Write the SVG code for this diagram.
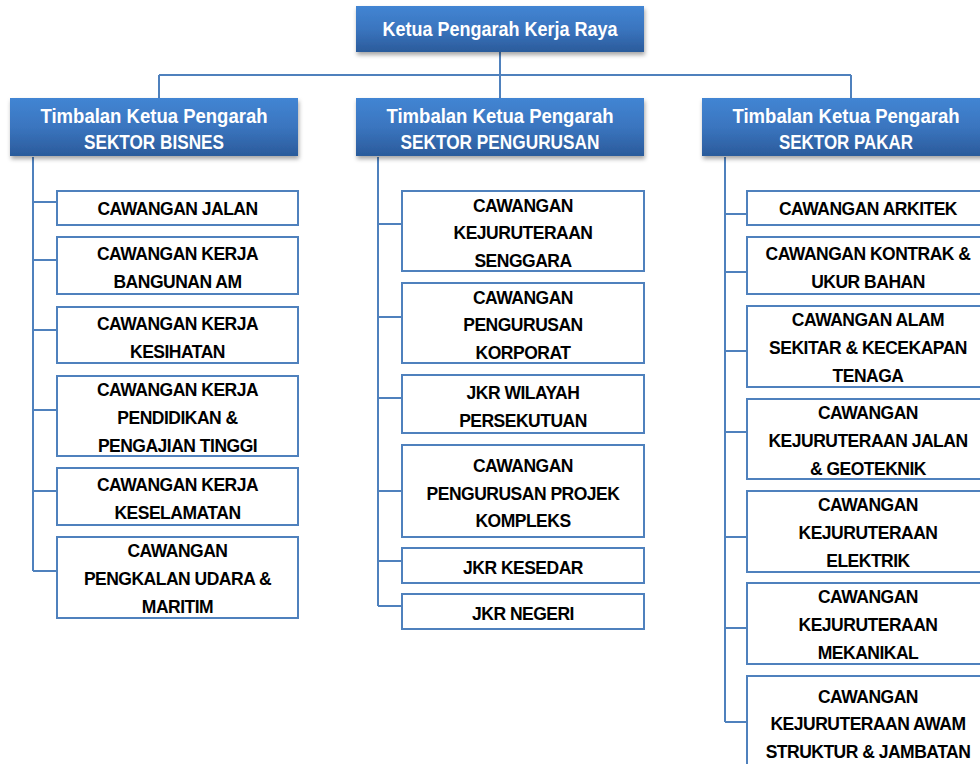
<svg xmlns="http://www.w3.org/2000/svg" width="980" height="764" viewBox="0 0 980 764">
<defs>
<linearGradient id="hg" x1="0" y1="0" x2="0" y2="1">
<stop offset="0" stop-color="#4285d3"/>
<stop offset="0.5" stop-color="#3a75bf"/>
<stop offset="1" stop-color="#2b5b9b"/>
</linearGradient>
<filter id="sh" x="-5%" y="-20%" width="115%" height="160%">
<feDropShadow dx="1" dy="3" stdDeviation="2" flood-color="#000" flood-opacity="0.35"/>
</filter>
<style>
.hbox{fill:url(#hg);filter:url(#sh);}
.ht{fill:#fff;font-family:"Liberation Sans",Arial,sans-serif;font-weight:bold;font-size:19.5px;text-anchor:middle;}
.box{fill:#fff;stroke:#4f81bd;stroke-width:2;}
.t{fill:#000;font-family:"Liberation Sans",Arial,sans-serif;font-weight:bold;font-size:17.5px;letter-spacing:-0.5px;text-anchor:middle;}
.ln{fill:none;stroke:#4f81bd;stroke-width:2;}
</style>
</defs>
<rect width="980" height="764" fill="#fff"/>

<g id="connectors" class="ln">
<path d="M500 52V98M159 75H851M159 75V98M851 75V98"/>
<path d="M33 157V571M33 202H57M33 260H57M33 330H57M33 410H57M33 491H57M33 571H57"/>
<path d="M378 157V606M378 224H402M378 317H402M378 398H402M378 491H402M378 561H402M378 606H402"/>
<path d="M725 157V722M725 214H747M725 272H747M725 351H747M725 432H747M725 537H747M725 628H747M725 722H747"/>
</g>

<g id="ketua">
<rect class="hbox" x="356" y="6" width="288" height="46"/>
<text class="ht" x="500" y="36" textLength="235" lengthAdjust="spacingAndGlyphs">Ketua Pengarah Kerja Raya</text>
</g>

<g id="bisnes">
<rect class="hbox" x="10" y="98" width="288" height="58"/>
<text class="ht" x="154" y="123" textLength="227" lengthAdjust="spacingAndGlyphs">Timbalan Ketua Pengarah</text>
<text class="ht" x="154" y="149" textLength="140" lengthAdjust="spacingAndGlyphs">SEKTOR BISNES</text>
</g>
<g id="pengurusan">
<rect class="hbox" x="356" y="98" width="288" height="58"/>
<text class="ht" x="500" y="123" textLength="227" lengthAdjust="spacingAndGlyphs">Timbalan Ketua Pengarah</text>
<text class="ht" x="500" y="149" textLength="199" lengthAdjust="spacingAndGlyphs">SEKTOR PENGURUSAN</text>
</g>
<g id="pakar">
<rect class="hbox" x="702" y="98" width="288" height="58"/>
<text class="ht" x="846" y="123" textLength="227" lengthAdjust="spacingAndGlyphs">Timbalan Ketua Pengarah</text>
<text class="ht" x="846" y="149" textLength="134" lengthAdjust="spacingAndGlyphs">SEKTOR PAKAR</text>
</g>

<!-- Left column -->
<g id="jalan"><rect class="box" x="57" y="191" width="241" height="34"/>
<text class="t" x="177.5" y="215">CAWANGAN JALAN</text></g>
<g id="bangunan"><rect class="box" x="57" y="237" width="241" height="57"/>
<text class="t" x="177.5" y="260">CAWANGAN KERJA</text><text class="t" x="177.5" y="288">BANGUNAN AM</text></g>
<g id="kesihatan"><rect class="box" x="57" y="307" width="241" height="56"/>
<text class="t" x="177.5" y="330">CAWANGAN KERJA</text><text class="t" x="177.5" y="358">KESIHATAN</text></g>
<g id="pendidikan"><rect class="box" x="57" y="376" width="241" height="80"/>
<text class="t" x="177.5" y="396">CAWANGAN KERJA</text><text class="t" x="177.5" y="424">PENDIDIKAN &amp;</text><text class="t" x="177.5" y="452">PENGAJIAN TINGGI</text></g>
<g id="keselamatan"><rect class="box" x="57" y="468" width="241" height="57"/>
<text class="t" x="177.5" y="491">CAWANGAN KERJA</text><text class="t" x="177.5" y="519">KESELAMATAN</text></g>
<g id="pengkalan"><rect class="box" x="57" y="537" width="241" height="81"/>
<text class="t" x="177.5" y="557">CAWANGAN</text><text class="t" x="177.5" y="585">PENGKALAN UDARA &amp;</text><text class="t" x="177.5" y="613">MARITIM</text></g>

<!-- Middle column -->
<g id="senggara"><rect class="box" x="402" y="191" width="242" height="80"/>
<text class="t" x="523" y="212">CAWANGAN</text><text class="t" x="523" y="239">KEJURUTERAAN</text><text class="t" x="523" y="267">SENGGARA</text></g>
<g id="korporat"><rect class="box" x="402" y="283" width="242" height="80"/>
<text class="t" x="523" y="304">CAWANGAN</text><text class="t" x="523" y="331">PENGURUSAN</text><text class="t" x="523" y="359">KORPORAT</text></g>
<g id="wilayah"><rect class="box" x="402" y="375" width="242" height="58"/>
<text class="t" x="523" y="399">JKR WILAYAH</text><text class="t" x="523" y="427">PERSEKUTUAN</text></g>
<g id="projek"><rect class="box" x="402" y="445" width="242" height="92"/>
<text class="t" x="523" y="472">CAWANGAN</text><text class="t" x="523" y="500">PENGURUSAN PROJEK</text><text class="t" x="523" y="527">KOMPLEKS</text></g>
<g id="kesedar"><rect class="box" x="402" y="548" width="242" height="35"/>
<text class="t" x="523" y="574">JKR KESEDAR</text></g>
<g id="negeri"><rect class="box" x="402" y="594" width="242" height="35"/>
<text class="t" x="523" y="620">JKR NEGERI</text></g>

<!-- Right column -->
<g id="arkitek"><rect class="box" x="747" y="191" width="242" height="34"/>
<text class="t" x="868" y="215">CAWANGAN ARKITEK</text></g>
<g id="kontrak"><rect class="box" x="747" y="237" width="242" height="57"/>
<text class="t" x="868" y="260">CAWANGAN KONTRAK &amp;</text><text class="t" x="868" y="288">UKUR BAHAN</text></g>
<g id="alam"><rect class="box" x="747" y="306" width="242" height="81"/>
<text class="t" x="868" y="326">CAWANGAN ALAM</text><text class="t" x="868" y="354">SEKITAR &amp; KECEKAPAN</text><text class="t" x="868" y="382">TENAGA</text></g>
<g id="geoteknik"><rect class="box" x="747" y="399" width="242" height="80"/>
<text class="t" x="868" y="419">CAWANGAN</text><text class="t" x="868" y="447">KEJURUTERAAN JALAN</text><text class="t" x="868" y="475">&amp; GEOTEKNIK</text></g>
<g id="elektrik"><rect class="box" x="747" y="491" width="242" height="81"/>
<text class="t" x="868" y="511">CAWANGAN</text><text class="t" x="868" y="539">KEJURUTERAAN</text><text class="t" x="868" y="567">ELEKTRIK</text></g>
<g id="mekanikal"><rect class="box" x="747" y="583" width="242" height="81"/>
<text class="t" x="868" y="603">CAWANGAN</text><text class="t" x="868" y="631">KEJURUTERAAN</text><text class="t" x="868" y="659">MEKANIKAL</text></g>
<g id="awam"><rect class="box" x="747" y="676" width="242" height="94"/>
<text class="t" x="868" y="703">CAWANGAN</text><text class="t" x="868" y="730">KEJURUTERAAN AWAM</text><text class="t" x="868" y="758">STRUKTUR &amp; JAMBATAN</text></g>
</svg>
